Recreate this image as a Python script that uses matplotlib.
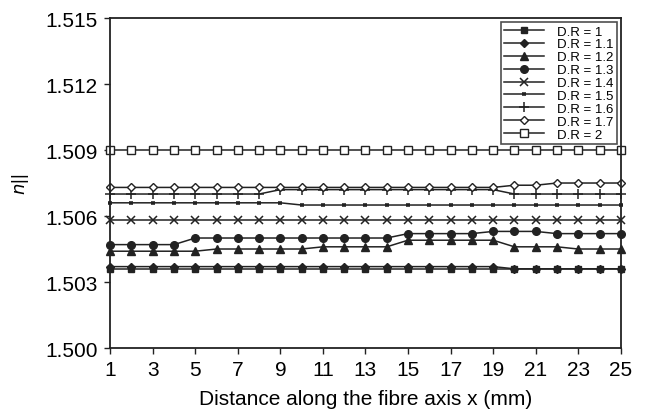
import numpy as np
import matplotlib
matplotlib.use("Agg")
import matplotlib.pyplot as plt

plt.rcParams['font.family'] = ['Liberation Sans', 'DejaVu Sans']

x = np.arange(1, 26)

dr_1 = [1.5036] * 25
dr_11 = [1.5037] * 19 + [1.5036] * 6
dr_12 = [1.5044] * 5 + [1.5045] * 5 + [1.5046] * 4 + [1.5049] * 5 + [1.5046] * 3 + [1.5045] * 3
dr_13 = [1.5047] * 4 + [1.5050] * 10 + [1.5052] * 4 + [1.5053] * 3 + [1.5052] * 4
dr_14 = [1.5058] * 25
dr_15 = [1.5066] * 9 + [1.5065] * 16
dr_16 = [1.5070] * 8 + [1.5072] * 11 + [1.5070] * 6
dr_17 = [1.5073] * 19 + [1.5074] * 2 + [1.5075] * 4
dr_2 = [1.5090] * 25

labels = ['D.R = 1', 'D.R = 1.1', 'D.R = 1.2', 'D.R = 1.3', 'D.R = 1.4',
          'D.R = 1.5', 'D.R = 1.6', 'D.R = 1.7', 'D.R = 2']
series = [dr_1, dr_11, dr_12, dr_13, dr_14, dr_15, dr_16, dr_17, dr_2]

# marker, size, edge width, filled
styles = [('s', 5, 1.0, True), ('D', 4, 1.0, True), ('^', 5.5, 1.0, True),
          ('o', 5.5, 1.0, True), ('x', 5.5, 1.1, True), ('_', 3.5, 2.6, True),
          ('+', 7, 1.1, True), ('D', 4.5, 1.0, False), ('s', 5.5, 1.0, False)]

fig = plt.figure(figsize=(6.48, 4.14), dpi=100)
ax = fig.add_axes([0.170, 0.157, 0.788, 0.797])

for y, lab, (m, ms, mew, filled) in zip(series, labels, styles):
    ax.plot(x, y, color='#222222', lw=1.1, marker=m, markersize=ms,
            markerfacecolor='#222222' if filled else 'white',
            markeredgecolor='#222222', markeredgewidth=mew, label=lab,
            clip_on=False)

ax.set_xlim(1, 25)
ax.set_ylim(1.500, 1.515)
ax.set_xticks(np.arange(1, 26, 2))
yt = np.arange(1.500, 1.5151, 0.003)
ax.set_yticks(yt)
ax.set_yticklabels(['%.3f' % v for v in yt])
ax.tick_params(labelsize=15, length=4, width=1, direction='out', color='#222222')
ax.tick_params(axis='x', pad=4.5)
ax.tick_params(axis='y', pad=5)
for s in ax.spines.values():
    s.set_linewidth(1.3)
    s.set_color('#222222')

ax.set_xlabel('Distance along the fibre axis x (mm)', fontsize=15, labelpad=7)
ax.set_ylabel(r'$n$||', fontsize=13, labelpad=10)

leg = ax.legend(loc='upper right', fontsize=9.5, frameon=True, fancybox=False,
                edgecolor='#222222', handlelength=3.0, handletextpad=1.0,
                labelspacing=0.05, borderpad=0.25, borderaxespad=0.3)
leg.get_frame().set_linewidth(1.2)

fig.savefig('out.png', dpi=100)
